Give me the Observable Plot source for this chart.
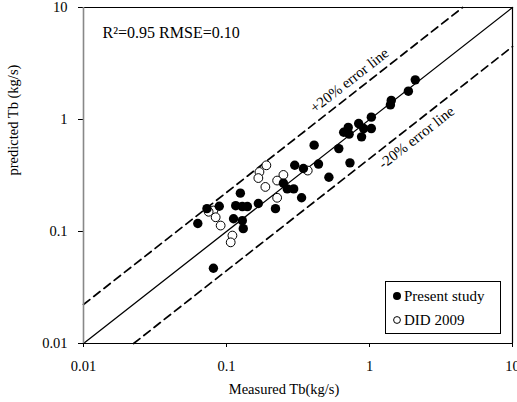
<!DOCTYPE html>
<html><head><meta charset="utf-8">
<script src="https://cdn.jsdelivr.net/npm/d3@7"></script>
<script src="https://cdn.jsdelivr.net/npm/@observablehq/plot@0.6"></script>
<style>body{margin:0;background:#fff} svg text{font-family:"Liberation Serif","Times New Roman",serif !important;}</style>
</head><body><div id="chart"></div>
<script>
const ticks = [0.01, 0.1, 1, 10];
const tickLabels = ["0.01", "0.1", "1", "10"];

// Present study (filled)
const presentX = [2.09,1.87,1.42,1.40,1.03,0.84,0.71,0.66,0.72,0.91,1.03,0.88,0.41,0.61,0.30,0.345,0.44,0.73,0.52,0.25,0.266,0.295,0.335,0.22,0.167,0.125,0.116,0.129,0.14,0.089,0.073,0.112,0.129,0.131,0.063,0.081];
const presentY = [2.26,1.79,1.48,1.35,1.05,0.92,0.85,0.77,0.74,0.83,0.83,0.70,0.59,0.55,0.39,0.365,0.40,0.41,0.305,0.27,0.24,0.24,0.20,0.16,0.178,0.22,0.17,0.167,0.167,0.168,0.16,0.13,0.125,0.106,0.118,0.047];

// DID 2009 (open)
const didX = [0.19,0.17,0.167,0.25,0.226,0.187,0.226,0.37,0.081,0.084,0.091,0.11,0.107,0.075];
const didY = [0.39,0.34,0.30,0.32,0.285,0.25,0.20,0.35,0.154,0.134,0.113,0.092,0.080,0.15];

// reference lines
const lineX = [0.01, 10], lineY = [0.01, 10];
const upperX = [0.01, 4.48], upperY = [0.0223, 10];
const lowerX = [0.0224, 10], lowerY = [0.01, 4.48];

// annotations
const statText = ["R²=0.95 RMSE=0.10"], statX = [0.0136], statY = [5.98];
const errText = ["+20% error line", "-20% error line"], errX = [0.724, 2.13], errY = [2.23, 0.69];
const legendLabels = ["Present study", "DID 2009"];

const present = presentX.map((x, i) => ({x, y: presentY[i]}));
const did = didX.map((x, i) => ({x, y: didY[i]}));
const ident = lineX.map((x, i) => ({x, y: lineY[i]}));
const upper = upperX.map((x, i) => ({x, y: upperY[i]}));
const lower = lowerX.map((x, i) => ({x, y: lowerY[i]}));
const errs = errText.map((t, i) => ({t, x: errX[i], y: errY[i]}));
const fmt = d => tickLabels[ticks.indexOf(d)];
const serif = "'Liberation Serif', 'Times New Roman', serif";

const plot = Plot.plot({
  width: 517, height: 402,
  marginLeft: 83, marginRight: 5, marginTop: 7, marginBottom: 59,
  style: {fontFamily: serif, fontSize: "14px", background: "#fff", color: "#000"},
  x: {type: "log", domain: [0.01, 10]},
  y: {type: "log", domain: [0.01, 10]},
  marks: [
    Plot.ruleY([10], {stroke: "#000", strokeWidth: 1.2}),
    Plot.ruleX([10], {stroke: "#000", strokeWidth: 1.2}),
    Plot.line(ident, {x: "x", y: "y", stroke: "#000", strokeWidth: 1.3}),
    Plot.line(upper, {x: "x", y: "y", stroke: "#000", strokeWidth: 1.7, strokeDasharray: "8,5"}),
    Plot.line(lower, {x: "x", y: "y", stroke: "#000", strokeWidth: 1.7, strokeDasharray: "8,5"}),
    Plot.dot(did, {x: "x", y: "y", r: 4.4, fill: "#fff", stroke: "#000", strokeWidth: 1}),
    Plot.dot(present, {x: "x", y: "y", r: 4.7, fill: "#000", stroke: "none"}),
    Plot.axisX({ticks, tickFormat: fmt, tickSize: 4, tickPadding: 13, label: null, fontSize: 14.5}),
    Plot.axisY({ticks, tickFormat: fmt, tickSize: 5, tickPadding: 11, label: null, fontSize: 14.5}),
    Plot.ruleX([0.01], {stroke: "#888", strokeWidth: 1.6}),
    Plot.ruleY([0.01], {stroke: "#000", strokeWidth: 1.2}),
    Plot.text(statText, {x: statX, y: statY, text: d => d, textAnchor: "start", fontSize: 16}),
    Plot.text(errs, {x: "x", y: "y", text: "t", rotate: -38, fontSize: 15}),
    Plot.text(["predicted Tb (kg/s)"], {frameAnchor: "left", dx: -70, rotate: -90, fontSize: 14.5}),
    Plot.text(["Measured Tb(kg/s)"], {frameAnchor: "bottom", dx: -14, dy: 50, fontSize: 14.5})
  ]
});

const svg = d3.select(plot);
const g = svg.append("g").attr("font-size", 15).attr("text-anchor", "start");
g.append("rect").attr("x", 385.5).attr("y", 281.5).attr("width", 115).attr("height", 52)
  .attr("fill", "#fff").attr("stroke", "#000");
g.append("circle").attr("cx", 397).attr("cy", 296).attr("r", 4).attr("fill", "#000");
g.append("text").attr("x", 404).attr("y", 296).attr("dy", "0.35em").attr("text-anchor", "start").text(legendLabels[0]);
g.append("circle").attr("cx", 397).attr("cy", 320).attr("r", 3.4).attr("fill", "#fff").attr("stroke", "#000");
g.append("text").attr("x", 404).attr("y", 320).attr("dy", "0.35em").attr("text-anchor", "start").text(legendLabels[1]);

document.getElementById("chart").appendChild(plot);
</script>
</body></html>
